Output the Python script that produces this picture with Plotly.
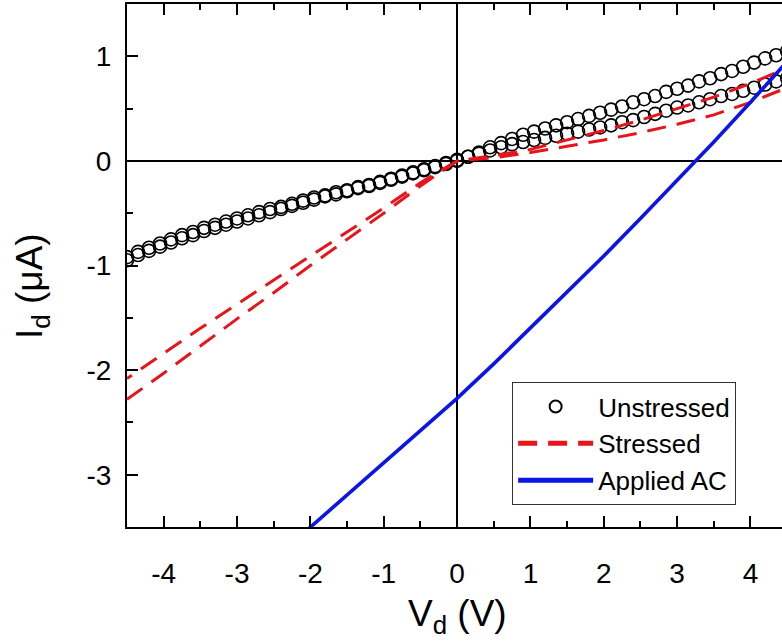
import plotly.graph_objects as go

# ---------------- data ----------------
# Unstressed sweep: drain voltage (V) and two branches of drain current (uA)
v_unstressed = [-4.5, -4.35, -4.2, -4.05, -3.9, -3.75, -3.6, -3.45, -3.3, -3.15,
                -3.0, -2.85, -2.7, -2.55, -2.4, -2.25, -2.1, -1.95, -1.8, -1.65,
                -1.5, -1.35, -1.2, -1.05, -0.9, -0.75, -0.6, -0.45, -0.3, -0.15,
                0.0, 0.15, 0.3, 0.45, 0.6, 0.75, 0.9, 1.05, 1.2, 1.35,
                1.5, 1.65, 1.8, 1.95, 2.1, 2.25, 2.4, 2.55, 2.7, 2.85,
                3.0, 3.15, 3.3, 3.45, 3.6, 3.75, 3.9, 4.05, 4.2, 4.35, 4.5]
i_unstressed_a = [-0.95, -0.90, -0.86, -0.82, -0.78, -0.74, -0.71, -0.67, -0.64, -0.61,
                  -0.58, -0.55, -0.52, -0.49, -0.46, -0.43, -0.40, -0.37, -0.34, -0.32,
                  -0.29, -0.26, -0.24, -0.21, -0.18, -0.15, -0.12, -0.09, -0.06, -0.03,
                  0.00, 0.04, 0.08, 0.13, 0.17, 0.21, 0.25, 0.28, 0.31, 0.34,
                  0.37, 0.40, 0.43, 0.46, 0.49, 0.52, 0.56, 0.59, 0.62, 0.66,
                  0.69, 0.72, 0.76, 0.79, 0.83, 0.86, 0.90, 0.94, 0.98, 1.01, 1.05]
i_unstressed_b = [-0.92, -0.87, -0.83, -0.79, -0.75, -0.71, -0.68, -0.64, -0.61, -0.58,
                  -0.55, -0.52, -0.49, -0.46, -0.44, -0.41, -0.38, -0.35, -0.33, -0.30,
                  -0.28, -0.25, -0.23, -0.20, -0.17, -0.14, -0.11, -0.08, -0.05, -0.02,
                  0.01, 0.04, 0.07, 0.10, 0.13, 0.16, 0.18, 0.20, 0.22, 0.24,
                  0.26, 0.28, 0.30, 0.32, 0.34, 0.37, 0.39, 0.42, 0.45, 0.48,
                  0.51, 0.53, 0.56, 0.59, 0.62, 0.64, 0.67, 0.70, 0.73, 0.76, 0.79]

# Stressed sweep
v_stressed = [-4.5, -4.0, -3.5, -3.0, -2.5, -2.0, -1.5, -1.0, -0.5, 0.0,
              0.5, 1.0, 1.5, 2.0, 2.5, 3.0, 3.5, 4.0, 4.5]
i_stressed_a = [-2.08, -1.84, -1.60, -1.37, -1.14, -0.91, -0.68, -0.45, -0.21, 0.00,
                0.05, 0.11, 0.20, 0.29, 0.39, 0.50, 0.61, 0.74, 0.89]
i_stressed_b = [-2.28, -2.03, -1.77, -1.51, -1.26, -1.00, -0.75, -0.50, -0.24, 0.00,
                0.03, 0.08, 0.14, 0.20, 0.27, 0.35, 0.44, 0.56, 0.70]

# Applied AC
v_ac = [-2.5, -2.0, -1.5, -1.0, -0.5, 0.0, 0.5, 1.0, 1.5, 2.0, 2.5, 3.0, 3.5, 4.0, 4.5]
i_ac = [-3.81, -3.50, -3.19, -2.89, -2.58, -2.27, -1.94, -1.60, -1.26, -0.91,
        -0.55, -0.19, 0.18, 0.56, 0.95]

x_ticks = [-4, -3, -2, -1, 0, 1, 2, 3, 4]
y_ticks = [-3, -2, -1, 0, 1]

FONT = "Liberation Sans, Arial, sans-serif"

fig = go.Figure()

fig.add_trace(go.Scatter(
    x=v_unstressed + v_unstressed[::-1],
    y=i_unstressed_a + i_unstressed_b[::-1],
    mode="markers", name="Unstressed",
    marker=dict(symbol="circle-open", size=13, color="black", line=dict(width=1.6, color="black")),
))
fig.add_trace(go.Scatter(
    x=v_stressed + v_stressed[::-1],
    y=i_stressed_b + i_stressed_a[::-1],
    mode="lines", name="Stressed",
    line=dict(color="#e8141c", width=3, dash="19px,11px"),
))
fig.add_trace(go.Scatter(
    x=v_ac, y=i_ac,
    mode="lines", name="Applied AC",
    line=dict(color="#0a16e6", width=3.6),
))

axis_common = dict(
    showgrid=False, zeroline=True, zerolinecolor="black", zerolinewidth=1.6,
    showline=True, linecolor="black", linewidth=2,
    ticks="inside", ticklen=11, tickwidth=2, tickcolor="black",
    tickfont=dict(family=FONT, size=28, color="black"),
    minor=dict(ticks="inside", ticklen=6, tickwidth=1.6, tickcolor="black", dtick=0.5),
)

fig.update_xaxes(range=[-4.5, 4.43], tickvals=x_ticks, ticktext=[str(t) for t in x_ticks],
                 mirror="allticks", ticklabelstandoff=20, **axis_common)
fig.update_yaxes(range=[-3.5, 1.5], tickvals=y_ticks, ticktext=[str(t) for t in y_ticks],
                 mirror=False, ticklabelstandoff=8, **axis_common)

fig.add_annotation(text="V<sub>d</sub> (V)", xref="paper", yref="paper",
                   x=0.504, y=-0.17, xanchor="center", yanchor="middle", showarrow=False,
                   font=dict(family=FONT, size=37, color="black"))
fig.add_annotation(text="I<sub>d</sub> (\u03bcA)", xref="paper", yref="paper",
                   x=-0.145, y=0.461, xanchor="center", yanchor="middle", showarrow=False,
                   textangle=-90, font=dict(family=FONT, size=37, color="black"))

fig.update_layout(
    width=782, height=641,
    margin=dict(l=127, r=0, t=4, b=114),
    plot_bgcolor="white", paper_bgcolor="white",
    showlegend=True,
    legend=dict(x=0.588, y=0.277, xanchor="left", yanchor="top",
                bgcolor="white", bordercolor="#333", borderwidth=1,
                font=dict(family=FONT, size=26, color="black"),
                itemwidth=75, itemsizing="constant", tracegroupgap=0),
)

fig.write_html("out.html")
